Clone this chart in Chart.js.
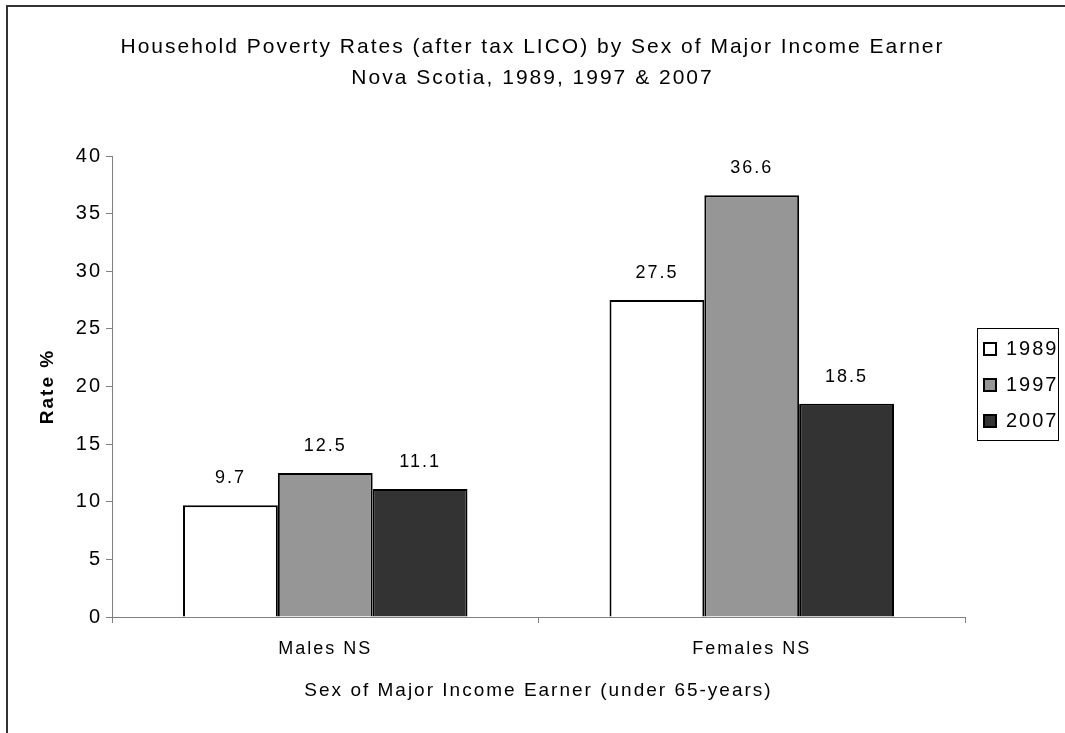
<!DOCTYPE html>
<html>
<head>
<meta charset="utf-8">
<script src="https://cdn.jsdelivr.net/npm/chart.js@4/dist/chart.umd.min.js"></script>
<style>
  html, body { margin: 0; padding: 0; background: #fff; }
  canvas { display: block; }
</style>
</head>
<body>
<canvas id="povertyChart" width="1065" height="733"></canvas>
<script>
// Data
const categories = ['Males NS', 'Females NS'];
const years = ['1989', '1997', '2007'];
const rates1989 = [9.7, 27.5];
const rates1997 = [12.5, 36.6];
const rates2007 = [11.1, 18.5];
const yTicks = [0, 5, 10, 15, 20, 25, 30, 35, 40];

const FONT = "'Liberation Sans', Arial, sans-serif";
const SPACING = '2px';

function setSpacing(chart) {
    chart.ctx.letterSpacing = SPACING;
}

// outer frame, bar value labels and legend frame
const extras = {
    id: 'extras',
    beforeUpdate(chart) {
        setSpacing(chart);
        const legend = chart.legend;
        if (legend && !legend._patched) {
            const fit = legend.fit;
            legend.fit = function () {
                fit.call(this);
                this.width = 100;
            };
            legend._patched = true;
        }
    },
    beforeLayout: setSpacing,
    afterLayout(chart) {
        const legend = chart.legend;
        legend.left = 968;
        legend.top = 323;
    },
    beforeDraw(chart) {
        setSpacing(chart);
        const ctx = chart.ctx;
        ctx.save();
        ctx.strokeStyle = '#333333';
        ctx.lineWidth = 2;
        ctx.beginPath();
        ctx.moveTo(7, chart.height + 5);
        ctx.lineTo(7, 6);
        ctx.lineTo(chart.width + 5, 6);
        ctx.stroke();
        ctx.restore();
    },
    afterDatasetsDraw(chart) {
        const ctx = chart.ctx;
        ctx.save();
        ctx.font = '18px ' + FONT;
        ctx.fillStyle = '#000';
        ctx.textAlign = 'center';
        ctx.textBaseline = 'middle';
        chart.data.datasets.forEach((ds, i) => {
            chart.getDatasetMeta(i).data.forEach((bar, j) => {
                ctx.fillText(ds.data[j].toFixed(1), bar.x, bar.y - 27);
            });
        });
        ctx.restore();
    },
    afterDraw(chart) {
        const legend = chart.legend;
        const ctx = chart.ctx;
        ctx.save();
        ctx.strokeStyle = '#000';
        ctx.lineWidth = 1;
        ctx.strokeRect(legend.left + 9.5, legend.top + 5.5, 81, 112);
        ctx.restore();
    }
};

const ctx = document.getElementById('povertyChart').getContext('2d');
const povertyChart = new Chart(ctx, {
    type: 'bar',
    data: {
        labels: categories,
        datasets: [{
            label: years[0],
            data: rates1989,
            backgroundColor: '#ffffff',
            borderColor: '#000000',
            borderWidth: 2
        }, {
            label: years[1],
            data: rates1997,
            backgroundColor: '#969696',
            borderColor: '#000000',
            borderWidth: 2
        }, {
            label: years[2],
            data: rates2007,
            backgroundColor: '#333333',
            borderColor: '#000000',
            borderWidth: 2
        }]
    },
    plugins: [extras],
    options: {
        responsive: false,
        animation: false,
        layout: {
            padding: { left: 0, right: 0, top: 0, bottom: 0 }
        },
        datasets: {
            bar: {
                categoryPercentage: 0.667,
                barPercentage: 1.0
            }
        },
        plugins: {
            title: {
                display: true,
                text: [
                    'Household Poverty Rates (after tax LICO) by Sex of Major Income Earner',
                    'Nova Scotia, 1989, 1997 & 2007'
                ],
                color: '#000',
                font: { family: FONT, size: 21, weight: 'normal', lineHeight: 31 / 21 },
                padding: { top: 32, bottom: 62 }
            },
            legend: {
                position: 'right',
                align: 'start',
                labels: {
                    color: '#000',
                    font: { family: FONT, size: 20 },
                    boxWidth: 12,
                    boxHeight: 12,
                    padding: 16
                }
            },
            tooltip: { enabled: false }
        },
        scales: {
            x: {
                grid: {
                    drawOnChartArea: false,
                    drawTicks: true,
                    tickLength: 6,
                    color: '#808080'
                },
                border: { color: '#808080', width: 1 },
                ticks: {
                    color: '#000',
                    font: { family: FONT, size: 18 },
                    padding: 15
                },
                title: {
                    display: true,
                    text: 'Sex of Major Income Earner (under 65-years)',
                    color: '#000',
                    font: { family: FONT, size: 19 },
                    padding: { top: 0, bottom: 31 }
                },
                afterFit(scale) {
                    scale.height = 116;
                }
            },
            y: {
                min: 0,
                max: 40,
                afterBuildTicks(scale) {
                    scale.ticks = yTicks.map(v => ({ value: v }));
                },
                grid: {
                    drawOnChartArea: false,
                    drawTicks: true,
                    tickLength: 6,
                    color: '#808080'
                },
                border: { color: '#808080', width: 1 },
                ticks: {
                    color: '#000',
                    font: { family: FONT, size: 20 },
                    padding: 4
                },
                title: {
                    display: true,
                    text: 'Rate %',
                    color: '#000',
                    font: { family: FONT, size: 19, weight: 'bold' },
                    padding: { top: 36, bottom: 0 }
                },
                afterFit(scale) {
                    scale.width = 112;
                }
            }
        }
    }
});
</script>
</body>
</html>
